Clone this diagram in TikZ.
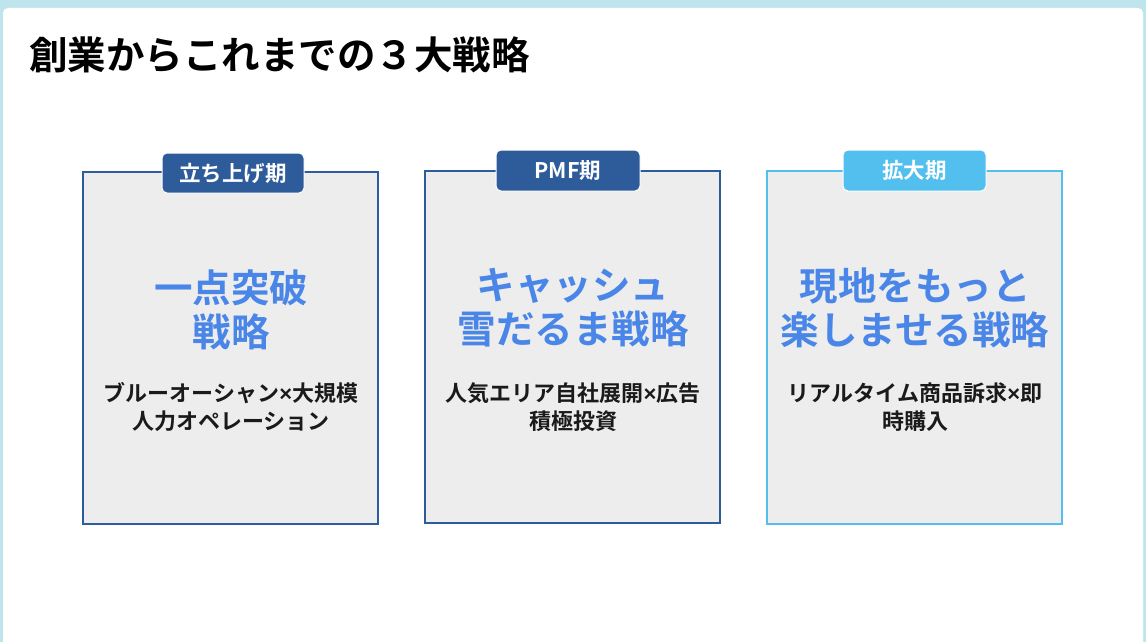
\documentclass[tikz,border=0pt]{standalone}
\usepackage{fontspec}
\setmainfont{Noto Sans CJK JP}
\newfontfamily\jpb{Noto Sans CJK JP Bold}
\newfontfamily\xsym{Liberation Sans}
\newcommand{\tms}{{\xsym\bfseries ×}}
\definecolor{frameC}{HTML}{BFE5EC}
\definecolor{navy}{HTML}{2E5C9A}
\definecolor{sky}{HTML}{52BFEE}
\definecolor{panel}{HTML}{EDEDED}
\definecolor{bigblue}{HTML}{4A86E8}
\definecolor{ink}{HTML}{1A1A1A}
\tikzset{
  panelbox/.style={draw=#1, line width=2pt, fill=panel},
  tabbox/.style={fill=#1, draw=white, line width=1pt, rounded corners=5pt, text=white, font=\jpb\fontsize{21.5}{24}\selectfont, inner sep=0pt},
  bigtext/.style={text=bigblue, font=\jpb\fontsize{38.5}{44}\selectfont, align=center, inner sep=0pt},
  subtext/.style={text=ink, font=\jpb\fontsize{22}{28}\selectfont, align=center, inner sep=0pt},
}
\begin{document}
\begin{tikzpicture}[x=1pt,y=-1pt]
\useasboundingbox (0,0) rectangle (1146,642);
\fill[frameC] (0,0) rectangle (1146,642);
\fill[white, rounded corners=5pt] (3,8) rectangle (1143,660);
\node[anchor=west, text=black, font=\jpb\fontsize{38.5}{42}\selectfont, inner sep=0pt] (title) at (29,55) {創業からこれまでの３大戦略};
% panels
\node[panelbox=navy, minimum width=295pt, minimum height=352pt, inner sep=0pt] (p1) at (230.5,348) {};
\node[panelbox=navy, minimum width=295pt, minimum height=352pt, inner sep=0pt] (p2) at (572.5,347) {};
\node[panelbox=sky, minimum width=295pt, minimum height=353pt, inner sep=0pt] (p3) at (914.5,347.5) {};
% tabs
\node[tabbox=navy, minimum width=142pt, minimum height=40pt] (t1) at (233,173) {立ち上げ期};
\node[tabbox=navy, minimum width=144pt, minimum height=41pt] (t2) at (568,170.5) {PMF期};
\node[tabbox=sky, minimum width=143pt, minimum height=41pt] (t3) at (914.5,170.5) {拡大期};
% big texts
\node[bigtext] (b1) at (231,310) {一点突破\\戦略};
\node[bigtext] (b2) at (573,308) {キャッシュ\\雪だるま戦略};
\node[bigtext] (b3) at (915,308) {現地をもっと\\楽しませる戦略};
% sub texts
\node[subtext] (s1) at (231,407) {ブルーオーシャン\tms 大規模\\人力オペレーション};
\node[subtext] (s2) at (573,407) {人気エリア自社展開\tms 広告\\積極投資};
\node[subtext] (s3) at (915,407) {リアルタイム商品訴求\tms 即\\時購入};
\end{tikzpicture}
\end{document}
